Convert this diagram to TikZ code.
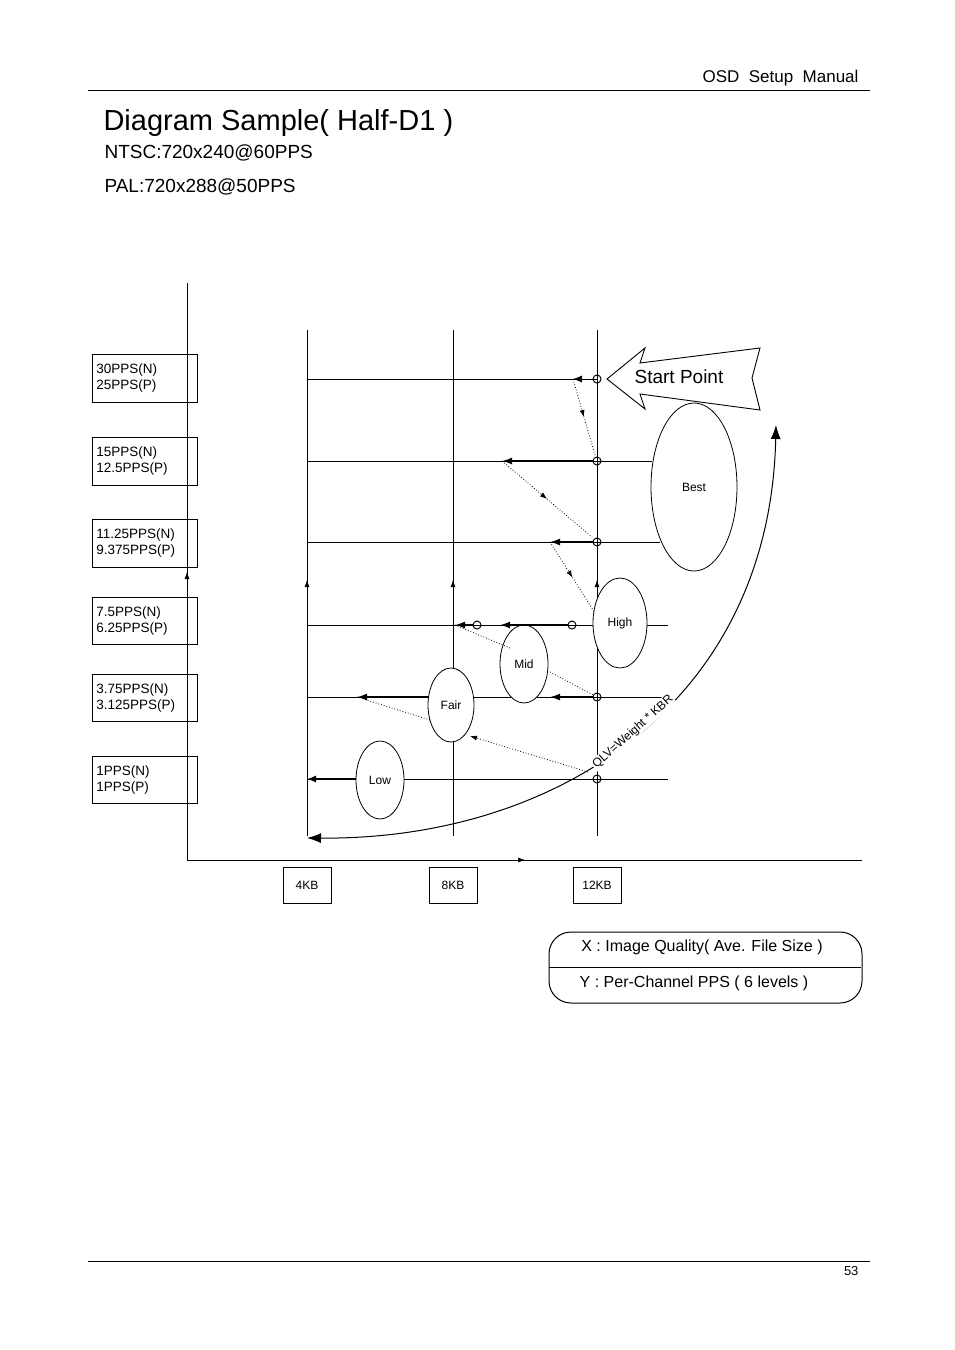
\documentclass[tikz,border=0pt]{standalone}
\usepackage{fontspec}
\setmainfont{Liberation Sans}
\usetikzlibrary{arrows.meta,decorations.markings,shapes.geometric}
\begin{document}
\begin{tikzpicture}[x=1pt,y=-1pt,
  lbl/.style={draw,line width=0.9pt,minimum width=105pt,minimum height=48pt,anchor=north west,align=left,font=\fontsize{13.5}{16}\selectfont,inner sep=4pt,text width=97pt},
  kb/.style={draw,line width=0.9pt,minimum width=48pt,minimum height=36pt,font=\fontsize{12}{14}\selectfont},
  ell/.style={draw,line width=0.8pt,ellipse,inner sep=0pt,font=\fontsize{12}{14}\selectfont},
  thin/.style={line width=0.7pt},
  thick/.style={line width=1.6pt,-{Latex[length=10pt,width=7pt]}},
  dot/.style={dotted,line width=0.8pt,postaction={decorate},decoration={markings,mark=at position 0.5 with {\arrow{Latex[length=7pt,width=5pt]}}}},
  circ/.style={circle,draw,line width=1pt,minimum size=8pt,inner sep=0pt}
]
\useasboundingbox (0,0) rectangle (954,1350);
\fill[white] (0,0) rectangle (954,1350);
% header/footer
\node[anchor=south east,font=\fontsize{17}{19}\selectfont] (hdr) at (862,90) {OSD\ \ Setup\ \ Manual};
\draw[line width=0.6pt] (88,90) coordinate (h1) -- (870,90) coordinate (h2);
\draw[line width=0.6pt] (88,1261) coordinate (f1) -- (870,1261) coordinate (f2);
\node[anchor=north east,font=\fontsize{13}{15}\selectfont] (pg) at (862,1263) {53};
% titles
\node[anchor=west,font=\fontsize{29}{32}\selectfont] (t1) at (100,123) {Diagram Sample( Half-D1 )};
\node[anchor=west,font=\fontsize{19}{22}\selectfont] (t2) at (101,153) {NTSC:720x240@60PPS};
\node[anchor=west,font=\fontsize{19}{22}\selectfont] (t3) at (101,187) {PAL:720x288@50PPS};
% axes
\coordinate (o) at (187,860);
\coordinate (ytop) at (187,283);
\coordinate (xend) at (862,860);
\draw[thin] (o) -- (ytop);
\draw[thin] (o) -- (xend);
\draw[thin,-{Latex[length=7pt,width=5pt]}] (187,600) -- (187,572);
\draw[thin,-{Latex[length=7pt,width=5pt]}] (500,860) -- (525,860);
% labels
\node[lbl] (l1) at (92,354) {30PPS(N)\\25PPS(P)};
\node[lbl] (l2) at (92,437) {15PPS(N)\\12.5PPS(P)};
\node[lbl] (l3) at (92,519) {11.25PPS(N)\\9.375PPS(P)};
\node[lbl,minimum height=47pt] (l4) at (92,597) {7.5PPS(N)\\6.25PPS(P)};
\node[lbl,minimum height=47pt] (l5) at (92,674) {3.75PPS(N)\\3.125PPS(P)};
\node[lbl,minimum height=47pt] (l6) at (92,756) {1PPS(N)\\1PPS(P)};
% verticals
\foreach \x/\n in {307/a,453/b,597/c}{
  \draw[thin] (\x,330) coordinate (v\n t) -- (\x,836) coordinate (v\n b);
  \draw[thin,-{Latex[length=7pt,width=5pt]}] (\x,600) -- (\x,580);
}
% horizontals
\draw[thin] (307,379) -- (597,379);
\draw[thin] (307,461) -- (652,461);
\draw[thin] (307,542) -- (660,542);
\draw[thin] (307,625) -- (668,625);
\draw[thin] (307,697) -- (668,697);
\draw[thin] (307,779) -- (668,779);
% ellipses
\node[ell,minimum width=86pt,minimum height=168pt,fill=white] (best) at (694,487) {Best};
\node[ell,minimum width=54pt,minimum height=90pt,fill=white] (high) at (620,623) {High};
\node[ell,minimum width=48pt,minimum height=78pt,fill=white] (mid) at (524,664) {Mid};
\node[ell,minimum width=46pt,minimum height=74pt,fill=white] (fair) at (451,705) {Fair};
\node[ell,minimum width=48pt,minimum height=78pt,fill=white] (low) at (380,780) {Low};
% circles
\node[circ] (c1) at (597,379) {};
\node[circ] (c2) at (597,461) {};
\node[circ] (c3) at (597,542) {};
\node[circ] (c5) at (597,697) {};
\node[circ] (c6) at (597,779) {};
\node[circ] (c4a) at (572,625) {};
\node[circ] (c4b) at (477,625) {};
% thick arrows
\coordinate (s1) at (573,379);
\draw[thin,-{Latex[length=9pt,width=7pt]}] (c1) -- (s1);
\coordinate (s2) at (502,461); \draw[thick] (c2) -- (s2);
\coordinate (s3) at (550,542); \draw[thick] (c3) -- (s3);
\coordinate (s4a) at (500,625); \draw[thick] (c4a) -- (s4a);
\coordinate (s4b) at (455,625); \draw[thick] (c4b) -- (s4b);
\coordinate (s5) at (550,697); \draw[thick] (c5) -- (s5);
\coordinate (fw) at (429,697);
\coordinate (s5b) at (357,697); \draw[thick] (fw) -- (s5b);
\coordinate (lw) at (356,779);
\coordinate (s6) at (307,779); \draw[line width=1.3pt,-{Latex[length=9pt,width=7pt]}] (lw) -- (s6);
% dotted
\coordinate (d1) at (595,455); \draw[dot] (s1) -- (d1);
\coordinate (d2) at (592,537); \draw[dot] (s2) -- (d2);
\coordinate (d3) at (595,613); \draw[dot] (s3) -- (d3);
\coordinate (d4) at (510,648); \draw[dotted,line width=0.8pt] (s4b) -- (d4);
\coordinate (d5) at (550,672); \draw[dotted,line width=0.8pt] (d5) -- (c5);
\coordinate (d6) at (430,720); \draw[dotted,line width=0.8pt] (s5b) -- (d6);
\coordinate (d7a) at (588,772); \coordinate (d7b) at (470,736);
\draw[dotted,line width=0.8pt,-{Latex[length=7pt,width=5pt]}] (d7a) -- (d7b);
% big curve
\coordinate (cs) at (307,838); \coordinate (ce) at (776,425);
\draw[line width=1pt,{Latex[length=14pt,width=10pt]}-{Latex[length=14pt,width=10pt]}] (cs) .. controls (560,840) and (770,700) .. (ce);
\coordinate (q1) at (586,774); \coordinate (q2) at (680,690);
\path (q1) -- (q2) node[midway,sloped,fill=white,inner sep=1pt,font=\fontsize{12}{14}\selectfont] (qlv) {QLV=Weight * KBR};
% start point
\draw[line width=0.9pt,fill=white] (607,379) coordinate (sp) -- (645,348) -- (640,363) -- (760,348) -- (752,378) -- (760,410) -- (640,394) -- (645,409) -- cycle;
\node[font=\fontsize{19}{21}\selectfont] (spt) at (679,377) {Start Point};
% KB boxes
\node[kb] (k4) at (307,885) {4KB};
\node[kb] (k8) at (453,885) {8KB};
\node[kb] (k12) at (597,885) {12KB};
% legend
\draw[line width=1pt,rounded corners=22pt] (549,932) rectangle (862,1003);
\draw[line width=0.8pt] (549,967) -- (861,967);
\node[font=\fontsize{16}{18}\selectfont] (lx) at (702,947) {X : Image Quality( Ave. File Size )};
\node[font=\fontsize{16}{18}\selectfont] (ly) at (694,983) {Y : Per-Channel PPS ( 6 levels )};
\end{tikzpicture}
\end{document}
